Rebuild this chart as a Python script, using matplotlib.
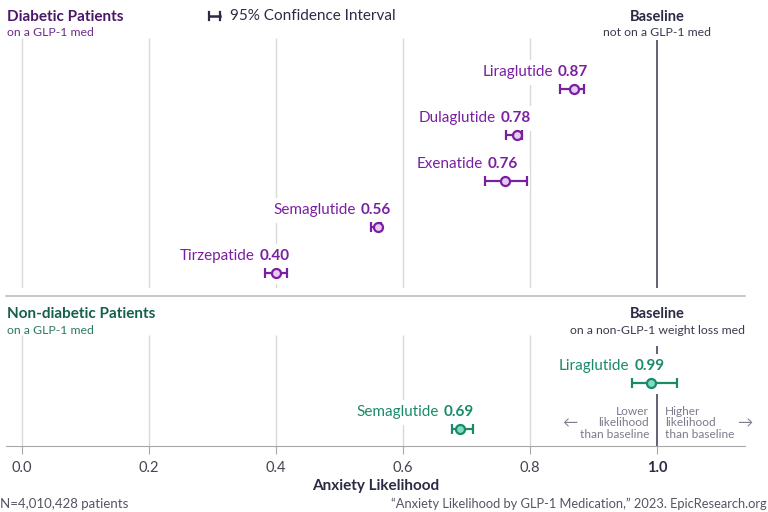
# Anxiety likelihood by GLP-1 medication, forest-style dot + CI chart

import matplotlib.pyplot as plt
from matplotlib.patches import Rectangle
from matplotlib.lines import Line2D
from matplotlib.transforms import IdentityTransform

plt.rcParams['font.family'] = ['Lato', 'DejaVu Sans']

# diabetic patients on a GLP-1 med
diab_drugs = ['Liraglutide', 'Dulaglutide', 'Exenatide', 'Semaglutide', 'Tirzepatide']
diab_vals = [0.87, 0.78, 0.76, 0.56, 0.40]
diab_lo = [0.847, 0.762, 0.729, 0.550, 0.382]
diab_hi = [0.885, 0.787, 0.795, 0.566, 0.418]

# non-diabetic patients on a GLP-1 med
nond_drugs = ['Liraglutide', 'Semaglutide']
nond_vals = [0.99, 0.69]
nond_lo = [0.960, 0.677]
nond_hi = [1.031, 0.710]

tick_vals = [0.0, 0.2, 0.4, 0.6, 0.8, 1.0]
tick_labels = ['0.0', '0.2', '0.4', '0.6', '0.8', '1.0']

W, H = 768, 512
PURPLE = '#7b1fa2'
PURPLE_DARK = '#4b1768'
PURPLE_FILL = '#e6cdf0'
GREEN = '#1b8a6b'
GREEN_DARK = '#155f4d'
GREEN_FILL = '#7fdcc2'
NAVY = '#2b2b45'
GRAY_TXT = '#7c7c8c'
GRID = '#d9d9d9'
BASE = '#55556a'

fig = plt.figure(figsize=(W / 100, H / 100), dpi=100)
XL = ((6 - 22) / 635, (745 - 22) / 635)


def px_axes(x0, y0, x1, y1):
    ax = fig.add_axes([x0 / W, 1 - y1 / H, (x1 - x0) / W, (y1 - y0) / H])
    ax.set_xlim(*XL)
    ax.set_ylim(y1, y0)  # y in figure pixels, top down
    for s in ax.spines.values():
        s.set_visible(False)
    ax.set_yticks([])
    return ax


def ftext(x, y, s, **kw):
    fig.text(x / W, 1 - y / H, s, **kw)


ax1 = px_axes(6, 38, 745, 288)
ax2 = px_axes(6, 335, 745, 446)

ax1.set_xticks([])
ax1.vlines(tick_vals[:-1], 38, 288, color=GRID, lw=1, zorder=1)
ax1.vlines(1.0, 40, 288, color=BASE, lw=1.3, zorder=1)

ax2.vlines(tick_vals[:-1], 335, 446, color=GRID, lw=1, zorder=1)
ax2.vlines(1.0, 346, 446, color=BASE, lw=1.3, zorder=1)
ax2.spines['bottom'].set_visible(True)
ax2.spines['bottom'].set_color('#a8a8a8')
ax2.set_xticks(tick_vals)
ax2.set_xticklabels(tick_labels, fontsize=10.5, color='#444450')
ax2.tick_params(axis='x', length=6, color='#a8a8a8', pad=5)
lbl = ax2.get_xticklabels()[-1]
lbl.set_fontweight('bold')
lbl.set_color(NAVY)
ax2.get_xticklines()[-2].set_color(BASE)
ax2.set_xlabel('Anxiety Likelihood', fontsize=11, fontweight='bold', color=NAVY, labelpad=3)

renderer = fig.canvas.get_renderer()


def white_box(ax, x0, x1, yc, half):
    ax.add_patch(Rectangle((x0, yc - half), x1 - x0, 2 * half, transform=IdentityTransform(),
                           fc='white', ec='none', zorder=2))


def draw_rows(ax, names, vals, lo, hi, y0, col, fill):
    for i, (n, v, l, h) in enumerate(zip(names, vals, lo, hi)):
        y = y0 + i * 46
        ax.errorbar(v, y, xerr=[[v - l], [h - v]], fmt='o', ms=6.5, mfc=fill, mec=col,
                    mew=1.6, ecolor=col, elinewidth=1.6, capsize=3.3, capthick=1.5, zorder=5)
        tv = ax.annotate(f'{v:.2f}', (v, y), xytext=(13.5, 17), textcoords='offset pixels',
                         ha='right', va='center', fontsize=11, fontweight='bold',
                         color=col, zorder=6)
        bb = tv.get_window_extent(renderer)
        tn = ax.annotate(n, (v, y), xytext=(13.5 - bb.width - 5, 17), textcoords='offset pixels',
                         ha='right', va='center', fontsize=11, color=col, zorder=6)
        nb = tn.get_window_extent(renderer)
        # white backing behind label and behind interval, hides grid lines
        px, py = ax.transData.transform((v, y))
        white_box(ax, nb.x0 - 2, bb.x1 + 1, py + 17, 12.5)
        lx = ax.transData.transform((l, y))[0]
        hx = ax.transData.transform((h, y))[0]
        white_box(ax, lx - 3, hx + 3, py, 11)


draw_rows(ax1, diab_drugs, diab_vals, diab_lo, diab_hi, 89, PURPLE, PURPLE_FILL)
draw_rows(ax2, nond_drugs, nond_vals, nond_lo, nond_hi, 383, GREEN, GREEN_FILL)

# divider between the two panels
fig.add_artist(Line2D([6 / W, 745 / W], [1 - 296 / H] * 2, color='#bdbdbd', lw=1.2))

# panel headers
ftext(7, 17, 'Diabetic Patients', fontsize=11, fontweight='bold', color=PURPLE_DARK, va='center')
ftext(7, 33, 'on a GLP-1 med', fontsize=8.8, color='#6a2d8a', va='center')
ftext(7, 314, 'Non-diabetic Patients', fontsize=11, fontweight='bold', color=GREEN_DARK, va='center')
ftext(7, 331, 'on a GLP-1 med', fontsize=8.8, color='#2a7a62', va='center')

ftext(657, 17, 'Baseline', fontsize=10.5, fontweight='bold', color=NAVY, ha='center', va='center')
ftext(657, 33, 'not on a GLP-1 med', fontsize=8.8, color='#3a3a50', ha='center', va='center')
ftext(657, 314, 'Baseline', fontsize=10.5, fontweight='bold', color=NAVY, ha='center', va='center')
ftext(657, 331, 'on a non-GLP-1 weight loss med', fontsize=8.8, color='#3a3a50', ha='center', va='center')

# legend for the interval marker
fig.add_artist(Line2D([209 / W, 220 / W], [1 - 16 / H] * 2, color=NAVY, lw=1.8))
fig.add_artist(Line2D([209 / W] * 2, [1 - 12 / H, 1 - 20 / H], color=NAVY, lw=1.6))
fig.add_artist(Line2D([220 / W] * 2, [1 - 12 / H, 1 - 20 / H], color=NAVY, lw=1.6))
ftext(230, 16, '95% Confidence Interval', fontsize=11, color=NAVY, va='center')

# direction hints
ftext(649, 423, 'Lower\nlikelihood\nthan baseline', fontsize=8.6, color=GRAY_TXT,
      ha='right', va='center', linespacing=1.05)
ftext(665, 423, 'Higher\nlikelihood\nthan baseline', fontsize=8.6, color=GRAY_TXT,
      ha='left', va='center', linespacing=1.05)
ftext(577, 423, '\u2190', fontsize=11, color=GRAY_TXT, ha='right', va='center')
ftext(752, 423, '\u2192', fontsize=11, color=GRAY_TXT, ha='right', va='center')

# footer
ftext(0, 504, 'N=4,010,428 patients', fontsize=9.5, color='#555565', va='center')
ftext(767, 504, '\u201cAnxiety Likelihood by GLP-1 Medication,\u201d 2023. EpicResearch.org',
      fontsize=9.3, color='#555565', ha='right', va='center')

fig.savefig('out.png', dpi=100)
